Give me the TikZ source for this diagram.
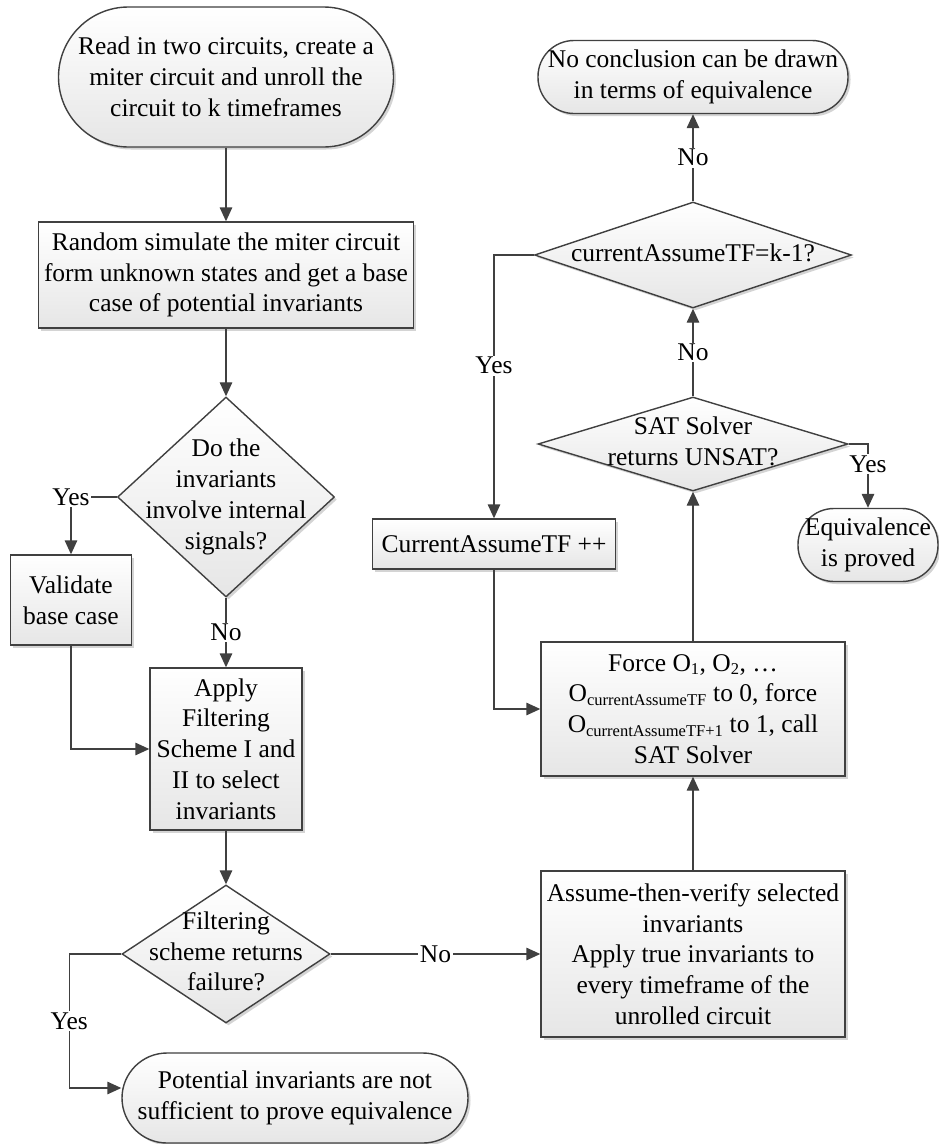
\documentclass[tikz,border=0pt]{standalone}
\usepackage{fontspec}
\setmainfont{Liberation Serif}
\usetikzlibrary{arrows.meta,shapes.geometric,shadows}
\definecolor{flowline}{RGB}{64,64,64}
\definecolor{flowfill}{RGB}{230,230,230}
\definecolor{flowshadow}{RGB}{212,212,212}
\newcommand{\osub}[1]{\textsubscript{\fontsize{16.5}{18}\selectfont #1}}
\newcommand{\dectext}[1]{\makebox[0pt]{\begin{tabular}{@{}c@{}}#1\end{tabular}}}
\tikzset{
  flow box/.style={
    rectangle,
    draw=flowline,
    line width=1.4pt,
    top color=white,
    bottom color=flowfill,
    drop shadow={shadow xshift=2.5pt, shadow yshift=-2.5pt, fill=flowshadow, opacity=1},
    align=center,
    inner sep=1pt,
    font=\fontsize{25.5}{30.8}\selectfont
  },
  flow term/.style={flow box, rounded corners=#1},
  flow dec/.style={flow box, diamond},
  arrow/.style={
    draw=flowline,
    line width=1.4pt,
    -{Triangle[length=14pt,width=12.5pt]}
  },
  branch/.style={
    fill=white,
    inner sep=1.5pt,
    font=\fontsize{25.5}{30.8}\selectfont
  }
}

\begin{document}
\begin{tikzpicture}[x=1pt, y=-1pt]
  \useasboundingbox[fill=white] (0,0) rectangle (938,1144);

  % Left column
  \node[flow term=70pt, minimum width=335pt, minimum height=140pt] (start) at (226,77) {Read in two circuits, create a\\miter circuit and unroll the\\circuit to k timeframes};
  \node[flow box, minimum width=375pt, minimum height=106pt] (randsim) at (226,275) {Random simulate the miter circuit\\form unknown states and get a base\\case of potential invariants};
  \node[flow dec, minimum width=217pt, minimum height=200pt] (internal) at (226,497) {\dectext{Do the\\invariants\\involve internal\\signals?}};
  \node[flow box, minimum width=121pt, minimum height=90pt] (validate) at (71,600) {Validate\\base case};
  \node[flow box, minimum width=152pt, minimum height=162pt] (filter) at (226,749) {Apply\\Filtering\\Scheme I and\\II to select\\invariants};
  \node[flow dec, minimum width=208pt, minimum height=138pt] (failure) at (226,954) {\dectext{Filtering\\scheme returns\\failure?}};
  \node[flow term=45pt, minimum width=346pt, minimum height=90pt] (notsuff) at (295,1098) {Potential invariants are not\\sufficient to prove equivalence};

  % Right column
  \node[flow box, minimum width=304pt, minimum height=166pt] (assume) at (693,954) {Assume-then-verify selected\\invariants\\Apply true invariants to\\every timeframe of the\\unrolled circuit};
  \node[flow box, minimum width=304pt, minimum height=134pt] (force) at (693,709) {Force O\osub{1}, O\osub{2}, \ldots\\O\osub{currentAssumeTF} to 0, force\\O\osub{currentAssumeTF+1} to 1, call\\SAT Solver};
  \node[flow dec, minimum width=310pt, minimum height=94pt] (unsat) at (693,444) {\dectext{SAT Solver\\returns UNSAT?}};
  \node[flow term=36pt, minimum width=140pt, minimum height=73pt] (proved) at (868,545) {Equivalence\\is proved};
  \node[flow dec, minimum width=317pt, minimum height=106pt] (lastTF) at (693,255) {\dectext{currentAssumeTF=k-1?}};
  \node[flow term=36pt, minimum width=310pt, minimum height=73pt] (noconc) at (693,77) {No conclusion can be drawn\\in terms of equivalence};
  \node[flow box, minimum width=243pt, minimum height=50pt] (incTF) at (494,544) {CurrentAssumeTF ++};

  % Connections
  \draw[arrow] (start) -- (randsim);
  \draw[arrow] (randsim) -- (internal);
  \draw[arrow] (internal.west) -| node[branch, pos=0.5] {Yes} (validate.north);
  \draw[arrow] (internal) -- node[branch] {No} (filter);
  \draw[arrow] (validate.south) |- (filter.west);
  \draw[arrow] (filter) -- (failure);
  \draw[arrow] (failure.west) -- ++(-52,0) |- node[branch, pos=0.25] {Yes} ([yshift=10pt]notsuff.west);
  \draw[arrow] (failure) -- node[branch] {No} (assume);
  \draw[arrow] (assume) -- (force);
  \draw[arrow] (force) -- (unsat);
  \draw[arrow] (unsat.east) -| node[branch, pos=0.66] {Yes} (proved.north);
  \draw[arrow] (unsat) -- node[branch] {No} (lastTF);
  \draw[arrow] (lastTF) -- node[branch] {No} (noconc);
  \draw[arrow] (lastTF.west) -| node[branch, pos=0.71] {Yes} (incTF.north);
  \draw[arrow] (incTF.south) |- (force.west);
\end{tikzpicture}
\end{document}
